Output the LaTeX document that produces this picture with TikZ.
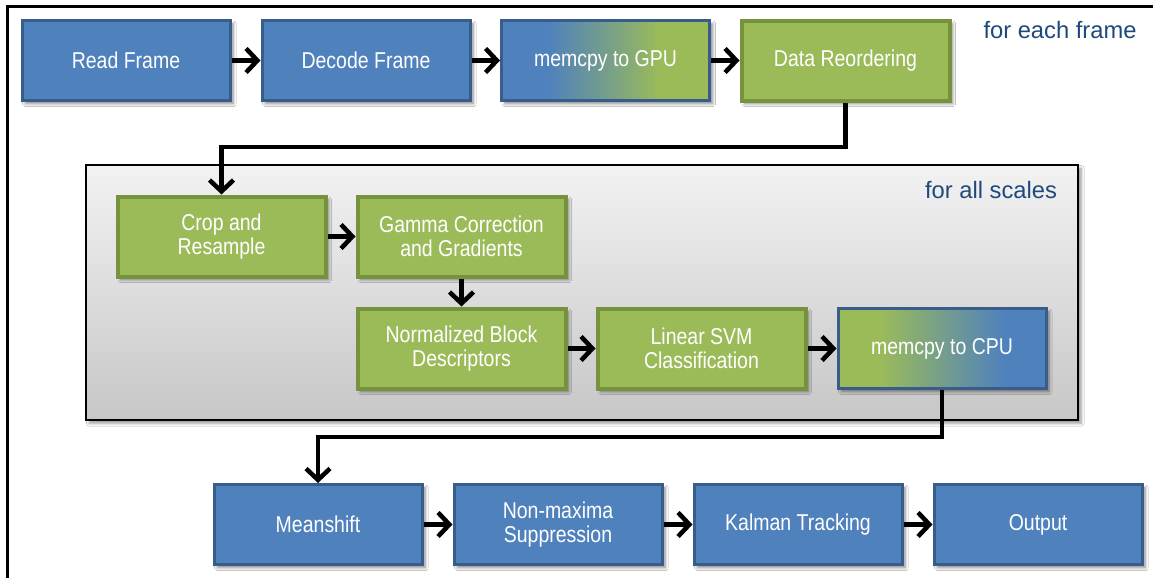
\documentclass[tikz,border=0pt]{standalone}
\usepackage{fontspec}
\setmainfont{Liberation Sans}
\newfontfamily\stagefont[FakeStretch=0.85]{Liberation Sans}
\usepackage{tikz}
\usetikzlibrary{arrows.meta,shadows.blur}
\definecolor{offblue}{RGB}{79,129,189}
\definecolor{offblueline}{RGB}{56,93,138}
\definecolor{offgreen}{RGB}{155,187,89}
\definecolor{offgreenline}{RGB}{118,146,60}
\definecolor{offteal}{RGB}{117,158,139}
\definecolor{labelblue}{RGB}{31,73,125}
\pgfdeclarehorizontalshading{togreen}{100bp}{color(0bp)=(offblue); color(36bp)=(offblue); color(50bp)=(offteal); color(63bp)=(offgreen); color(100bp)=(offgreen)}
\pgfdeclarehorizontalshading{toblue}{100bp}{color(0bp)=(offgreen); color(35bp)=(offgreen); color(50bp)=(offteal); color(65bp)=(offblue); color(100bp)=(offblue)}
\tikzset{
  stage/.style={rectangle, minimum width=156pt, minimum height=60pt, align=center,
              text=white, font=\stagefont\fontsize{17.2}{17.6}\selectfont,
              blur shadow={shadow xshift=2.5pt, shadow yshift=-2.5pt, shadow blur steps=6, shadow opacity=45}},
  bluebox/.style={stage, fill=offblue, draw=offblueline, line width=2.25pt},
  greenbox/.style={stage, fill=offgreen, draw=offgreenline, line width=3pt},
  mixbox/.style={stage, draw=offblueline, line width=2.25pt, shade, shading=#1},
  scalebox/.style={draw=black, line width=1.5pt, top color=black!5, bottom color=black!22,
              blur shadow={shadow xshift=2.5pt, shadow yshift=-2.5pt, shadow blur steps=6, shadow opacity=40}},
  looplabel/.style={text=labelblue, font=\fontsize{17.8}{21}\selectfont},
  flow/.style={-{Straight Barb[length=8.5pt, width=18pt]}, line width=3.4pt, black},
}
\begin{document}
\begin{tikzpicture}[x=0.75pt, y=-0.75pt]
        \useasboundingbox (0,0) rectangle (1153,578);
        \fill[white] (0,0) rectangle (1153,578);
        \draw[line width=2.25pt] (7,578) -- (7,6) -- (1153,6);
        \draw[scalebox] (86,165) rectangle (1078,420);
        \node[looplabel] (eachframe) at (1060,30) {for each frame};
        \node[looplabel] (allscales) at (991,190) {for all scales};
        % per frame
        \node[bluebox] (read)    at (126,60.5)   {Read Frame};
        \node[bluebox] (decode)  at (366,60.5)   {Decode Frame};
        \node[mixbox=togreen] (gpucopy) at (605.5,60.5) {memcpy to GPU};
        \node[greenbox] (reorder) at (845.5,60.5) {Data Reordering};
        \draw[flow] (read) -- (decode);
        \draw[flow] (decode) -- (gpucopy);
        \draw[flow] (gpucopy) -- (reorder);
        % per scale
        \node[greenbox] (crop)     at (221.5,236.5) {Crop and\\Resample};
        \node[greenbox] (gamma)    at (461.5,236.5) {Gamma Correction\\and Gradients};
        \node[greenbox] (normblock) at (461.5,348.5) {Normalized Block\\Descriptors};
        \node[greenbox] (svm)      at (701.5,348.5) {Linear SVM\\Classification};
        \node[mixbox=toblue] (cpucopy) at (942,348.5) {memcpy to CPU};
        \coordinate (turnA) at (845.5,147);
        \draw[flow] (reorder.south) -- (turnA) -| (crop.north);
        \draw[flow] (crop) -- (gamma);
        \draw[flow] (gamma) -- (normblock);
        \draw[flow] (normblock) -- (svm);
        \draw[flow] (svm) -- (cpucopy);
        % tracking
        \node[bluebox] (meanshift) at (318,524.5)  {Meanshift};
        \node[bluebox] (nonmax)    at (558,524.5)  {Non-maxima\\Suppression};
        \node[bluebox] (kalman)    at (798,524.5)  {Kalman Tracking};
        \node[bluebox] (output)    at (1038,524.5) {Output};
        \coordinate (turnB) at (942,437);
        \draw[flow] (cpucopy.south) -- (turnB) -| (meanshift.north);
        \draw[flow] (meanshift) -- (nonmax);
        \draw[flow] (nonmax) -- (kalman);
        \draw[flow] (kalman) -- (output);
\end{tikzpicture}
\end{document}
